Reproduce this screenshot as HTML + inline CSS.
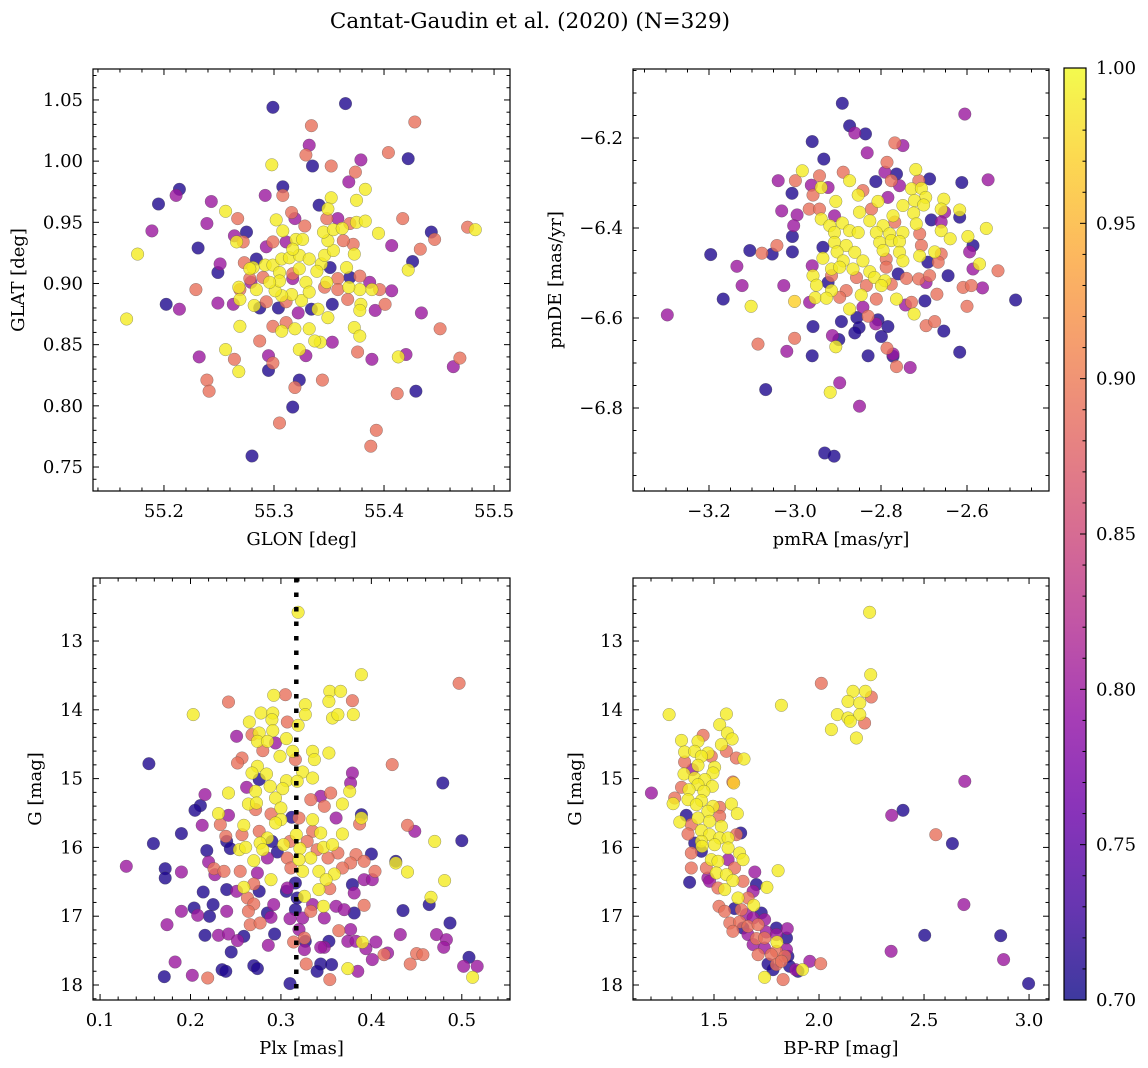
<!DOCTYPE html>
<html><head><meta charset="utf-8">
<style>
html,body{margin:0;padding:0;background:#fff;}
svg{display:block;font-family:"DejaVu Serif","Liberation Serif",serif;}
</style></head>
<body>
<svg id="fig" width="1148" height="1068" viewBox="0 0 1148 1068" xmlns="http://www.w3.org/2000/svg">
<defs>
<linearGradient id="plasma" x1="0" y1="1" x2="0" y2="0">
<stop offset="0" stop-color="#0d0887"/><stop offset="0.1" stop-color="#41049d"/><stop offset="0.2" stop-color="#6a00a8"/><stop offset="0.3" stop-color="#8f0da4"/><stop offset="0.4" stop-color="#b12a90"/><stop offset="0.5" stop-color="#cc4778"/><stop offset="0.6" stop-color="#e16462"/><stop offset="0.7" stop-color="#f2844b"/><stop offset="0.8" stop-color="#fca636"/><stop offset="0.9" stop-color="#fcce25"/><stop offset="1" stop-color="#f0f921"/>
</linearGradient>
</defs>
<text x="530" y="28" font-size="21.5" text-anchor="middle">Cantat-Gaudin et al. (2020) (N=329)</text>
</svg>
<script>
// ---------- Panel 1: GLON / GLAT ----------
const glon=[55.299,55.365,55.334,55.428,55.332,55.329,55.335,55.352,55.379,55.404,55.422,55.298,55.374,55.368,55.308,55.214,55.211,55.292,55.308,55.195,55.243,55.383,55.375,55.352,55.256,55.267,55.341,55.349,55.316,55.302,55.239,55.189,55.275,55.266,55.417,55.476,55.483,55.443,55.446,55.395,55.407,55.231,55.176,55.433,55.426,55.422,55.251,55.249,55.229,55.202,55.214,55.249,55.166,55.269,55.434,55.451,55.256,55.232,55.264,55.268,55.295,55.287,55.239,55.241,55.323,55.319,55.344,55.317,55.305,55.280,55.393,55.388,55.412,55.429,55.413,55.420,55.389,55.376,55.469,55.463,55.401,55.392,55.379,55.378,55.373,55.378,55.353,55.329,55.323,55.342,55.337,55.332,55.307,55.319,55.299,55.295,55.299,55.349,55.340,55.353,55.334,55.325,55.316,55.307,55.301,55.284,55.268,55.269,55.282,55.263,55.287,55.304,55.311,55.329,55.332,55.348,55.358,55.366,55.378,55.387,55.396,55.407,55.389,55.378,55.368,55.367,55.358,55.369,55.351,55.281,55.292,55.299,55.307,55.314,55.323,55.332,55.343,55.346,55.354,55.373,55.372,55.363,55.349,55.345,55.354,55.362,55.375,55.383,55.369,55.358,55.348,55.328,55.319,55.320,55.326,55.311,55.299,55.293,55.284,55.273,55.278,55.279,55.308,55.317,55.305,55.317,55.323,55.339,55.346,55.278,55.272,55.264,55.269,55.293,55.322,55.311,55.317,55.305,55.296,55.290];
const glat=[1.044,1.047,1.029,1.032,1.013,1.005,0.996,0.996,1.001,1.007,1.002,0.997,0.991,0.983,0.979,0.977,0.972,0.972,0.972,0.965,0.967,0.977,0.968,0.970,0.959,0.953,0.964,0.961,0.958,0.952,0.949,0.943,0.942,0.934,0.953,0.946,0.944,0.942,0.936,0.941,0.931,0.929,0.924,0.928,0.918,0.911,0.916,0.909,0.895,0.883,0.879,0.884,0.871,0.865,0.876,0.863,0.846,0.840,0.838,0.828,0.829,0.853,0.821,0.812,0.821,0.815,0.821,0.799,0.786,0.759,0.780,0.767,0.810,0.812,0.840,0.842,0.838,0.844,0.839,0.832,0.883,0.878,0.883,0.878,0.864,0.857,0.852,0.841,0.846,0.852,0.853,0.863,0.861,0.863,0.865,0.841,0.835,0.872,0.879,0.883,0.879,0.886,0.891,0.890,0.894,0.895,0.897,0.887,0.882,0.883,0.880,0.880,0.885,0.901,0.893,0.901,0.904,0.913,0.906,0.901,0.895,0.894,0.895,0.895,0.897,0.887,0.895,0.905,0.913,0.913,0.915,0.915,0.920,0.921,0.923,0.920,0.916,0.923,0.927,0.924,0.932,0.935,0.935,0.942,0.944,0.945,0.950,0.951,0.949,0.953,0.953,0.947,0.953,0.936,0.936,0.934,0.934,0.930,0.920,0.917,0.904,0.901,0.943,0.928,0.909,0.908,0.912,0.910,0.897,0.912,0.934,0.939,0.895,0.885,0.876,0.868,0.904,0.902,0.901,0.905];
const prob1=[.71,.71,.89,.89,.80,.89,.71,.89,.80,.89,.71,.99,.89,.80,.71,.71,.80,.80,.89,.71,.80,.99,.99,.99,.99,.89,.71,.99,.89,.99,.80,.80,.71,.99,.89,.89,.99,.71,.89,.99,.80,.71,.99,.89,.71,.99,.80,.71,.89,.71,.80,.80,.99,.99,.80,.89,.99,.80,.89,.99,.71,.89,.89,.89,.71,.89,.89,.71,.89,.71,.89,.89,.89,.71,.99,.80,.80,.89,.89,.80,.89,.80,.99,.99,.99,.99,.80,.80,.99,.99,.99,.99,.99,.99,.89,.80,.89,.99,.99,.71,.71,.99,.99,.99,.99,.99,.99,.99,.99,.80,.71,.71,.89,.99,.99,.99,.89,.99,.89,.80,.89,.80,.99,.99,.99,.89,.89,.71,.71,.99,.99,.99,.99,.99,.99,.99,.99,.99,.99,.99,.89,.89,.99,.99,.99,.99,.99,.99,.89,.80,.89,.89,.80,.99,.99,.80,.89,.80,.71,.89,.89,.80,.99,.99,.99,.89,.99,.99,.89,.99,.89,.80,.89,.89,.80,.89,.80,.99,.99,.89];

// ---------- Panel 2: pmRA / pmDE ----------
const pmra=[-2.890,-2.605,-2.873,-2.861,-2.836,-2.960,-2.768,-2.749,-2.832,-2.933,-2.786,-2.983,-2.888,-2.943,-2.791,-2.764,-2.719,-3.039,-2.999,-2.873,-2.812,-2.776,-2.757,-2.687,-2.712,-2.612,-2.551,-2.962,-2.939,-2.923,-3.007,-2.958,-2.853,-2.842,-2.729,-2.706,-2.696,-2.654,-2.905,-2.807,-2.784,-2.722,-2.701,-3.031,-2.995,-2.967,-2.943,-2.939,-2.908,-2.850,-2.822,-2.772,-2.749,-2.724,-2.660,-2.617,-2.652,-2.617,-3.003,-2.919,-2.890,-2.826,-2.795,-2.768,-2.718,-2.683,-2.660,-2.555,-3.006,-2.908,-2.873,-2.853,-2.811,-2.780,-2.749,-2.710,-2.660,-2.639,-2.598,-2.586,-2.594,-3.196,-3.105,-3.077,-3.053,-3.042,-3.006,-2.935,-2.908,-2.881,-2.803,-2.776,-2.757,-2.706,-2.902,-2.861,-2.795,-2.757,-2.710,-2.675,-2.660,-2.935,-2.888,-2.842,-2.788,-2.749,-2.691,-2.667,-2.571,-2.586,-2.528,-3.135,-2.960,-2.915,-2.896,-2.865,-2.826,-2.788,-2.760,-2.958,-2.915,-2.857,-2.815,-2.791,-2.741,-2.712,-2.687,-2.644,-3.123,-3.026,-2.950,-2.923,-2.915,-2.881,-2.834,-2.799,-2.776,-2.695,-2.609,-2.590,-2.564,-3.167,-3.001,-2.966,-2.953,-2.927,-2.896,-2.846,-2.811,-2.764,-2.729,-2.698,-2.670,-2.487,-2.600,-3.102,-2.873,-2.842,-2.743,-2.723,-3.297,-2.892,-2.856,-2.830,-2.807,-2.784,-2.812,-2.695,-2.675,-2.654,-2.958,-2.851,-2.861,-2.799,-2.913,-2.898,-3.086,-3.001,-2.905,-3.019,-2.960,-2.830,-2.786,-2.772,-2.772,-2.617,-2.764,-2.732,-2.896,-2.918,-3.068,-2.850,-2.931,-2.909];
const pmde=[-6.123,-6.147,-6.173,-6.189,-6.191,-6.208,-6.211,-6.217,-6.233,-6.247,-6.254,-6.273,-6.276,-6.284,-6.276,-6.280,-6.270,-6.295,-6.295,-6.295,-6.297,-6.295,-6.306,-6.291,-6.295,-6.299,-6.293,-6.305,-6.310,-6.310,-6.323,-6.327,-6.327,-6.317,-6.313,-6.312,-6.332,-6.336,-6.341,-6.341,-6.332,-6.339,-6.349,-6.362,-6.371,-6.358,-6.358,-6.380,-6.373,-6.365,-6.358,-6.373,-6.350,-6.367,-6.358,-6.360,-6.365,-6.376,-6.395,-6.395,-6.389,-6.384,-6.395,-6.387,-6.391,-6.382,-6.387,-6.401,-6.419,-6.410,-6.406,-6.410,-6.410,-6.413,-6.410,-6.413,-6.406,-6.424,-6.419,-6.439,-6.453,-6.459,-6.450,-6.456,-6.458,-6.439,-6.453,-6.443,-6.432,-6.439,-6.432,-6.428,-6.430,-6.439,-6.453,-6.454,-6.450,-6.454,-6.462,-6.453,-6.458,-6.467,-6.473,-6.473,-6.469,-6.473,-6.476,-6.476,-6.480,-6.491,-6.495,-6.485,-6.484,-6.491,-6.487,-6.491,-6.497,-6.487,-6.502,-6.506,-6.506,-6.510,-6.510,-6.517,-6.512,-6.513,-6.506,-6.506,-6.528,-6.528,-6.527,-6.521,-6.539,-6.539,-6.528,-6.528,-6.525,-6.521,-6.532,-6.528,-6.533,-6.558,-6.563,-6.565,-6.555,-6.556,-6.554,-6.549,-6.558,-6.558,-6.565,-6.562,-6.547,-6.560,-6.574,-6.574,-6.580,-6.576,-6.571,-6.591,-6.593,-6.608,-6.599,-6.596,-6.604,-6.619,-6.613,-6.617,-6.608,-6.629,-6.619,-6.621,-6.633,-6.641,-6.639,-6.648,-6.658,-6.645,-6.664,-6.674,-6.684,-6.684,-6.667,-6.680,-6.685,-6.676,-6.708,-6.710,-6.744,-6.765,-6.759,-6.796,-6.900,-6.907];
const prob2=[.71,.80,.71,.80,.71,.71,.89,.80,.80,.71,.89,.99,.89,.89,.80,.71,.99,.80,.89,.99,.71,.89,.80,.71,.89,.71,.80,.80,.99,.80,.71,.89,.99,.89,.99,.99,.99,.99,.99,.99,.80,.99,.99,.80,.80,.89,.89,.99,.80,.99,.89,.99,.99,.99,.99,.99,.80,.71,.80,.99,.99,.99,.99,.89,.99,.71,.80,.99,.71,.99,.99,.99,.99,.99,.99,.89,.99,.99,.99,.71,.80,.71,.71,.89,.71,.89,.71,.71,.99,.99,.99,.99,.99,.89,.99,.99,.99,.99,.99,.99,.89,.99,.99,.99,.89,.99,.71,.89,.99,.80,.89,.80,.80,.99,.99,.99,.99,.89,.71,.99,.89,.89,.99,.99,.89,.89,.89,.71,.80,.80,.99,.71,.99,.89,.89,.99,.89,.80,.89,.89,.80,.71,.97,.80,.99,.99,.89,.99,.89,.99,.89,.71,.89,.71,.89,.99,.99,.80,.80,.99,.80,.71,.71,.89,.71,.71,.80,.89,.89,.71,.71,.71,.71,.71,.80,.71,.89,.89,.99,.80,.71,.71,.89,.80,.71,.71,.89,.80,.80,.99,.71,.80,.71,.71];

// ---------- Panel 3: Plx / G ----------
const plx=[.319,.389,.497,.354,.366,.292,.305,.242,.353,.379,.327,.203,.278,.291,.327,.357,.363,.380,.265,.290,.307,.319,.291,.268,.276,.251,.274,.285,.306,.294,.280,.313,.335,.353,.299,.337,.257,.252,.316,.154,.423,.274,.268,.284,.324,.379,.377,.276,.306,.335,.318,.479,.262,.288,.302,.376,.272,.355,.216,.242,.344,.294,.368,.264,.273,.211,.205,.333,.348,.300,.272,.231,.242,.289,.300,.312,.335,.320,.361,.389,.389,.387,.213,.233,.259,.276,.294,.335,.440,.448,.190,.239,.257,.317,.344,.368,.285,.310,.159,.240,.277,.290,.303,.329,.347,.357,.470,.500,.244,.254,.261,.280,.321,.340,.363,.218,.296,.307,.333,.352,.383,.400,.270,.285,.320,.220,.377,.392,.427,.427,.129,.172,.190,.226,.237,.255,.311,.324,.342,.359,.368,.404,.440,.172,.227,.274,.289,.350,.316,.392,.401,.481,.259,.270,.307,.342,.354,.379,.240,.251,.276,.214,.306,.381,.263,.318,.326,.466,.464,.292,.225,.270,.335,.347,.361,.392,.204,.190,.264,.285,.316,.333,.370,.381,.435,.208,.221,.174,.240,.289,.310,.324,.348,.266,.277,.487,.216,.231,.242,.259,.293,.320,.326,.364,.377,.432,.472,.252,.286,.314,.327,.348,.353,.374,.383,.390,.405,.483,.480,.245,.326,.344,.394,.414,.418,.450,.457,.401,.183,.443,.508,.328,.344,.356,.502,.517,.235,.239,.270,.274,.340,.374,.385,.171,.202,.219,.354,.512,.310];
const gmag3=[12.583,13.489,13.615,13.731,13.731,13.789,13.780,13.886,13.877,13.867,13.925,14.070,14.046,14.046,14.070,14.119,14.070,14.070,14.177,14.143,14.177,14.225,14.303,14.361,14.337,14.385,14.458,14.458,14.419,14.482,14.594,14.603,14.603,14.628,14.676,14.724,14.700,14.773,14.724,14.783,14.797,14.821,14.918,14.933,14.904,14.918,15.064,15.015,15.030,14.991,15.039,15.064,15.127,15.112,15.146,15.185,15.185,15.209,15.233,15.209,15.257,15.282,15.369,15.369,15.354,15.393,15.461,15.306,15.403,15.427,15.451,15.509,15.534,15.514,15.597,15.563,15.597,15.572,15.572,15.524,15.572,15.660,15.679,15.669,15.679,15.766,15.645,15.766,15.679,15.766,15.800,15.839,15.815,15.815,15.790,15.805,15.863,15.912,15.945,15.912,15.936,15.912,15.960,15.912,15.999,15.960,15.912,15.902,16.018,16.033,15.999,16.033,16.018,16.033,16.081,16.047,16.067,16.154,16.154,16.154,16.105,16.096,16.193,16.154,16.178,16.212,16.226,16.202,16.202,16.226,16.275,16.309,16.357,16.309,16.348,16.348,16.299,16.348,16.348,16.386,16.299,16.348,16.357,16.444,16.396,16.372,16.469,16.469,16.517,16.469,16.469,16.483,16.580,16.532,16.590,16.614,16.600,16.541,16.614,16.638,16.638,16.648,16.638,16.662,16.735,16.735,16.711,16.725,16.832,16.832,16.832,16.822,16.832,16.856,16.856,16.842,16.881,16.929,16.929,16.953,16.905,16.929,16.905,16.953,16.919,16.987,17.002,17.123,16.929,17.016,17.036,17.026,17.026,17.123,17.099,17.099,17.278,17.278,17.258,17.292,17.258,17.195,17.317,17.210,17.195,17.268,17.268,17.355,17.423,17.375,17.365,17.452,17.365,17.365,17.365,17.380,17.375,17.341,17.452,17.520,17.486,17.452,17.472,17.559,17.535,17.544,17.559,17.631,17.665,17.694,17.598,17.694,17.694,17.704,17.728,17.728,17.777,17.801,17.719,17.762,17.801,17.762,17.801,17.879,17.859,17.898,17.922,17.888,17.980];
const prob3=[.99,.99,.89,.99,.99,.99,.89,.89,.99,.89,.99,.99,.99,.99,.99,.99,.99,.99,.99,.99,.89,.99,.99,.89,.99,.80,.99,.99,.99,.80,.89,.99,.99,.99,.99,.99,.89,.89,.89,.71,.89,.99,.99,.99,.99,.80,.80,.71,.99,.99,.99,.71,.80,.99,.99,.99,.99,.89,.80,.99,.80,.99,.99,.99,.99,.71,.71,.89,.89,.99,.89,.99,.80,.89,.99,.71,.99,.89,.80,.71,.99,.89,.80,.89,.99,.89,.99,.89,.89,.80,.71,.89,.89,.99,.99,.99,.99,.89,.71,.71,.99,.71,.99,.89,.99,.99,.99,.71,.71,.99,.99,.99,.99,.89,.89,.71,.71,.89,.99,.89,.89,.71,.99,.80,.99,.80,.89,.89,.71,.99,.80,.71,.80,.89,.89,.89,.89,.99,.99,.99,.89,.89,.99,.71,.80,.80,.99,.99,.71,.80,.80,.99,.99,.89,.80,.99,.89,.71,.71,.80,.71,.71,.71,.80,.89,.71,.99,.99,.71,.80,.71,.89,.80,.99,.80,.89,.71,.80,.89,.71,.71,.89,.80,.71,.71,.80,.71,.80,.80,.80,.80,.80,.80,.89,.89,.71,.71,.80,.80,.71,.71,.80,.89,.89,.80,.80,.80,.80,.80,.89,.71,.80,.71,.80,.80,.99,.80,.80,.80,.71,.80,.80,.80,.89,.80,.89,.89,.80,.80,.89,.71,.89,.71,.71,.80,.80,.71,.71,.71,.71,.71,.99,.80,.71,.80,.89,.89,.99,.71];

// ---------- Panel 4: BP-RP / G ----------
const bprp=[2.241,2.246,2.011,1.821,2.162,2.221,2.249,2.138,2.194,1.286,1.559,2.087,2.138,2.194,2.217,2.149,2.059,2.178,1.527,1.564,1.448,1.345,1.424,1.586,1.535,1.559,1.360,1.408,1.471,1.487,1.440,1.606,1.643,1.360,1.424,1.503,1.397,1.357,1.495,1.408,1.456,1.424,1.590,1.594,1.345,1.381,1.492,1.452,1.202,1.313,1.376,1.440,1.305,1.416,1.583,1.495,1.527,1.471,1.611,1.368,1.424,1.527,1.337,1.479,1.392,1.535,1.440,1.627,1.606,1.376,1.479,1.527,1.567,1.440,1.408,1.503,1.443,1.567,1.392,1.622,1.440,1.567,1.638,1.487,1.519,1.392,1.464,1.598,1.694,1.805,1.511,1.559,1.471,1.384,1.479,1.590,1.638,1.702,1.752,1.519,1.551,1.686,1.614,1.662,2.694,2.346,2.400,2.556,2.635,2.690,2.503,2.865,2.343,2.879,2.998,1.524,1.551,1.598,1.630,1.689,1.654,1.725,1.686,1.575,1.622,1.662,1.710,1.741,1.797,1.849,1.749,1.662,1.702,1.741,1.797,1.845,1.686,1.741,1.800,1.797,1.845,1.710,1.773,1.837,1.852,1.757,1.797,1.821,1.860,1.956,2.008,1.889,1.921,1.900,1.741,1.829,1.781,1.638,1.590];
const gmag4=[12.583,13.489,13.615,13.935,13.731,13.731,13.814,13.877,13.901,14.070,14.061,14.070,14.119,14.070,14.192,14.167,14.288,14.410,14.216,14.337,14.371,14.444,14.458,14.424,14.506,14.603,14.613,14.603,14.628,14.676,14.676,14.700,14.715,14.758,14.807,14.836,14.870,14.933,14.918,14.991,15.015,15.088,15.049,15.064,15.127,15.161,15.112,15.185,15.209,15.282,15.306,15.320,15.364,15.379,15.369,15.403,15.417,15.475,15.509,15.534,15.572,15.548,15.631,15.621,15.669,15.693,15.756,15.790,15.815,15.805,15.815,15.863,15.863,15.912,15.936,15.960,15.984,16.008,16.081,16.081,16.057,16.178,16.178,16.178,16.202,16.299,16.299,16.299,16.357,16.338,16.372,16.396,16.444,16.507,16.493,16.483,16.493,16.541,16.580,16.590,16.614,16.638,16.735,16.735,15.039,15.534,15.461,15.815,15.945,16.832,17.278,17.283,17.510,17.631,17.980,16.856,16.929,16.890,16.905,16.842,16.977,16.953,17.026,17.099,17.084,17.147,17.123,17.050,17.171,17.181,17.229,17.268,17.326,17.317,17.268,17.317,17.413,17.462,17.375,17.510,17.486,17.559,17.559,17.583,17.583,17.694,17.704,17.656,17.728,17.656,17.690,17.777,17.777,17.801,17.888,17.922,17.777,17.171,17.220];
const prob4=[.99,.99,.89,.99,.99,.99,.89,.99,.99,.99,.99,.99,.99,.99,.89,.99,.99,.99,.99,.99,.89,.99,.99,.99,.99,.89,.99,.99,.99,.89,.99,.89,.99,.89,.99,.99,.80,.99,.99,.99,.99,.99,.89,.97,.89,.99,.99,.99,.80,.89,.99,.99,.99,.99,.99,.99,.89,.99,.99,.71,.99,.89,.99,.99,.89,.99,.99,.71,.89,.89,.99,.99,.99,.99,.71,.99,.99,.99,.89,.99,.71,.80,.99,.99,.99,.89,.89,.89,.80,.99,.99,.99,.80,.71,.80,.99,.89,.71,.99,.89,.99,.80,.99,.89,.80,.80,.71,.89,.71,.80,.71,.71,.80,.80,.71,.89,.89,.71,.89,.99,.80,.71,.80,.89,.89,.89,.89,.80,.71,.80,.80,.80,.89,.89,.80,.71,.80,.80,.99,.89,.80,.89,.89,.89,.71,.71,.89,.89,.71,.80,.89,.80,.99,.71,.99,.89,.71,.71,.89];

// colorbar ticks
const cbTicks=[0.70,0.75,0.80,0.85,0.90,0.95,1.00];
const plxRef=[0.317];

const NS='http://www.w3.org/2000/svg';
const svg=document.getElementById('fig');
function el(tag,attrs,parent){const e=document.createElementNS(NS,tag);for(const k in attrs)e.setAttribute(k,attrs[k]);(parent||svg).appendChild(e);return e;}

const stops=[[0,'#0d0887'],[0.1,'#41049d'],[0.2,'#6a00a8'],[0.3,'#8f0da4'],[0.4,'#b12a90'],[0.5,'#cc4778'],[0.6,'#e16462'],[0.7,'#f2844b'],[0.8,'#fca636'],[0.9,'#fcce25'],[1,'#f0f921']];
function hex(h){return [parseInt(h.substr(1,2),16),parseInt(h.substr(3,2),16),parseInt(h.substr(5,2),16)];}
function plasma(p){let t=(p-0.7)/0.3;t=Math.max(0,Math.min(1,t));
 for(let i=0;i<stops.length-1;i++){if(t<=stops[i+1][0]){const a=hex(stops[i][1]),b=hex(stops[i+1][1]);const f=(t-stops[i][0])/(stops[i+1][0]-stops[i][0]);
 return 'rgb('+a.map((v,j)=>Math.round(v+(b[j]-v)*f)).join(',')+')';}}return stops[10][1];}
function fmt(v,d){const s=Math.abs(v).toFixed(d);return (v<-1e-9?'\u2212':'')+s;}

const TF=18, AF=18;
function panel(cfg){
 const g=el('g',{});
 
 
 const {L,T,W,H,x0,x1,y0,y1}=cfg;
 const sx=v=>L+(v-x0)/(x1-x0)*W;
 const sy=cfg.invert? (v=>T+(v-y0)/(y1-y0)*H) : (v=>T+H-(v-y0)/(y1-y0)*H);
 const idx=cfg.xs.map((_,i)=>i).sort((a,b)=>cfg.ps[a]-cfg.ps[b]);
 const pts=el('g',{},g);
 
 
 idx.forEach(i=>{
  const c=el('circle',{cx:sx(cfg.xs[i]).toFixed(1),cy:sy(cfg.ys[i]).toFixed(1),r:6.3,fill:plasma(cfg.ps[i]),'fill-opacity':0.8,stroke:'rgba(70,70,70,0.55)','stroke-width':0.5},pts);
  
  
 });
 if(cfg.extra)cfg.extra(g,sx,sy);
 const fr=el('rect',{x:L,y:T,width:W,height:H,fill:'none',stroke:'#000','stroke-width':1.2},g);
 
 
 const tk=el('g',{stroke:'#000','stroke-width':1},g);
 const xmin=Math.min(x0,x1),xmax=Math.max(x0,x1),ymin=Math.min(y0,y1),ymax=Math.max(y0,y1);
 for(let k=Math.ceil(xmin/cfg.xminor-1e-6);k*cfg.xminor<=xmax+1e-9;k++){const v=k*cfg.xminor;const X=sx(v);
  const maj=Math.abs(v/cfg.xmajor-Math.round(v/cfg.xmajor))<1e-4;const len=maj?6:3.5;
  el('line',{x1:X,x2:X,y1:T+H,y2:T+H-len},tk);el('line',{x1:X,x2:X,y1:T,y2:T+len},tk);}
 for(let k=Math.ceil(ymin/cfg.yminor-1e-6);k*cfg.yminor<=ymax+1e-9;k++){const v=k*cfg.yminor;const Y=sy(v);
  const maj=Math.abs(v/cfg.ymajor-Math.round(v/cfg.ymajor))<1e-4;const len=maj?6:3.5;
  el('line',{x1:L,x2:L+len,y1:Y,y2:Y},tk);el('line',{x1:L+W,x2:L+W-len,y1:Y,y2:Y},tk);}
 cfg.xticks.forEach(v=>{const t=el('text',{x:sx(v),y:T+H+26,'font-size':TF,'text-anchor':'middle'},g);t.textContent=fmt(v,cfg.xd);
  });
 cfg.yticks.forEach(v=>{const t=el('text',{x:L-10,y:sy(v)+6,'font-size':TF,'text-anchor':'end'},g);t.textContent=fmt(v,cfg.yd);
  });
 const xt=el('text',{x:L+W/2,y:T+H+54,'font-size':AF,'text-anchor':'middle'},g);xt.textContent=cfg.xlabel;
 
 const yt=el('text',{x:cfg.ylx,y:T+H/2,'font-size':AF,'text-anchor':'middle',transform:'rotate(-90 '+cfg.ylx+' '+(T+H/2)+')'},g);yt.textContent=cfg.ylabel;
 
}

panel({name:'panel-glon-glat',L:93,T:69,W:417,H:422,x0:55.1355,x1:55.5145,y0:0.7304,y1:1.0753,xs:glon,ys:glat,ps:prob1,
 xmajor:0.1,xminor:0.02,ymajor:0.05,yminor:0.01,xticks:[55.2,55.3,55.4,55.5],yticks:[0.75,0.80,0.85,0.90,0.95,1.00,1.05],xd:1,yd:2,
 xlabel:'GLON [deg]',ylabel:'GLAT [deg]',ylx:24});
panel({name:'panel-pmra-pmde',L:633,T:69,W:416,H:422,x0:-3.3767,x1:-2.4093,y0:-6.9844,y1:-6.0467,xs:pmra,ys:pmde,ps:prob2,
 xmajor:0.2,xminor:0.05,ymajor:0.2,yminor:0.05,xticks:[-3.2,-3.0,-2.8,-2.6],yticks:[-6.8,-6.6,-6.4,-6.2],xd:1,yd:1,
 xlabel:'pmRA [mas/yr]',ylabel:'pmDE [mas/yr]',ylx:561});
panel({name:'panel-plx-g',L:93,T:578,W:417,H:422,x0:0.0922,x1:0.5533,y0:12.084,y1:18.218,invert:true,xs:plx,ys:gmag3,ps:prob3,
 xmajor:0.1,xminor:0.02,ymajor:1,yminor:0.2,xticks:[0.1,0.2,0.3,0.4,0.5],yticks:[13,14,15,16,17,18],xd:1,yd:0,
 xlabel:'Plx [mas]',ylabel:'G [mag]',ylx:41,
 extra:(g,sx,sy)=>{plxRef.forEach(v=>{const l=el('line',{x1:sx(v),x2:sx(v),y1:578,y2:1000,stroke:'#000','stroke-width':4.5,'stroke-dasharray':'4.5 10'},g);
  });}});
panel({name:'panel-bprp-g',L:633,T:578,W:416,H:422,x0:1.1143,x1:3.095,y0:12.084,y1:18.218,invert:true,xs:bprp,ys:gmag4,ps:prob4,
 xmajor:0.5,xminor:0.1,ymajor:1,yminor:0.2,xticks:[1.5,2.0,2.5,3.0],yticks:[13,14,15,16,17,18],xd:1,yd:0,
 xlabel:'BP-RP [mag]',ylabel:'G [mag]',ylx:581});

(function(){
 const L=1064,T=68,W=22,H=932;const sy=v=>T+H-(v-0.7)/0.3*H;
 const g=el('g',{});
 
 
 el('rect',{x:L,y:T,width:W,height:H,fill:'url(#plasma)','fill-opacity':0.8},g);
 el('rect',{x:L,y:T,width:W,height:H,fill:'none',stroke:'#000','stroke-width':1.2},g);
 for(let k=70;k<=100;k++){const Y=sy(k/100);const maj=k%5===0;el('line',{x1:L+W,x2:L+W-(maj?6:3.5),y1:Y,y2:Y,stroke:'#000','stroke-width':1},g);}
 cbTicks.forEach(v=>{const t=el('text',{x:L+W+10,y:sy(v)+6,'font-size':TF},g);t.textContent=v.toFixed(2);
  });
})();
</script>
</body></html>
